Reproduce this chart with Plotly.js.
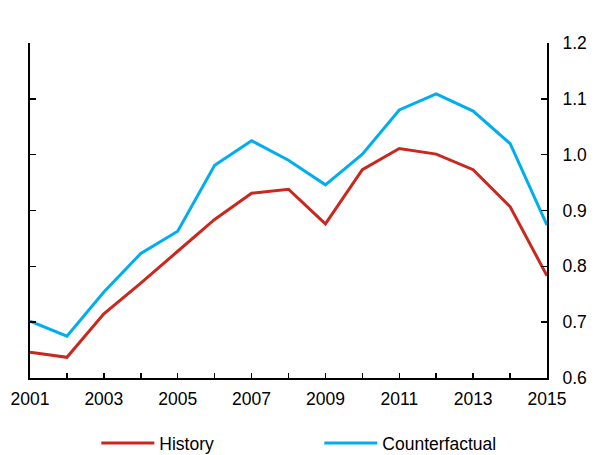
<!DOCTYPE html>
<html>
<head>
<meta charset="utf-8">
<script src="https://cdn.plot.ly/plotly-3.0.1.min.js"></script>
<style>html,body{margin:0;padding:0;background:#fff;}#chart{width:602px;height:455px;}</style>
</head>
<body>
<div id="chart"></div>
<script>
const years = [2001,2002,2003,2004,2005,2006,2007,2008,2009,2010,2011,2012,2013,2014,2015];
const history = [0.646,0.637,0.715,0.770,0.827,0.884,0.931,0.938,0.876,0.973,1.011,1.001,0.973,0.907,0.783];
const counterfactual = [0.702,0.675,0.754,0.823,0.863,0.981,1.025,0.990,0.946,1.001,1.080,1.109,1.078,1.020,0.874];
const seriesNames = ['History','Counterfactual'];
const colors = ['#C9281F','#00AEEF'];

const traces = [
  {x: years, y: history, name: seriesNames[0], type: 'scatter', mode: 'lines', line: {color: colors[0], width: 3}},
  {x: years, y: counterfactual, name: seriesNames[1], type: 'scatter', mode: 'lines', line: {color: colors[1], width: 3}}
];

const layout = {
  width: 602, height: 455,
  margin: {l: 30, r: 55, t: 43, b: 77},
  paper_bgcolor: '#fff', plot_bgcolor: '#fff',
  font: {family: 'Liberation Sans, Arial, sans-serif', size: 17.5, color: '#000'},
  showlegend: true,
  legend: {orientation: 'h', xref: 'container', yref: 'container', x: 0.16, xanchor: 'left', y: 0.026, yanchor: 'middle', itemwidth: 53, entrywidth: 155, entrywidthmode: 'pixels', font: {size: 17.5}},
  xaxis: {
    range: [2001, 2015], tickmode: 'linear', tick0: 2001, dtick: 2,
    ticks: 'inside', ticklen: 5, tickwidth: 1.5, tickcolor: '#000', ticklabelstandoff: 4,
    minor: {dtick: 1, tick0: 2001, ticks: 'inside', ticklen: 5, tickwidth: 1.5, tickcolor: '#000'},
    showline: true, linecolor: '#000', linewidth: 2,
    showgrid: false, zeroline: false, fixedrange: true
  },
  yaxis: {
    side: 'right', range: [0.6, 1.2], tickmode: 'linear', tick0: 0.6, dtick: 0.1, tickformat: '.1f',
    ticks: 'inside', ticklen: 6, tickwidth: 1.5, tickcolor: '#000', ticklabelstandoff: 10,
    showline: true, linecolor: '#000', linewidth: 2, mirror: 'ticks',
    showgrid: false, zeroline: false, fixedrange: true
  }
};

Plotly.newPlot('chart', traces, layout, {displayModeBar: false, staticPlot: true});
</script>
</body>
</html>
